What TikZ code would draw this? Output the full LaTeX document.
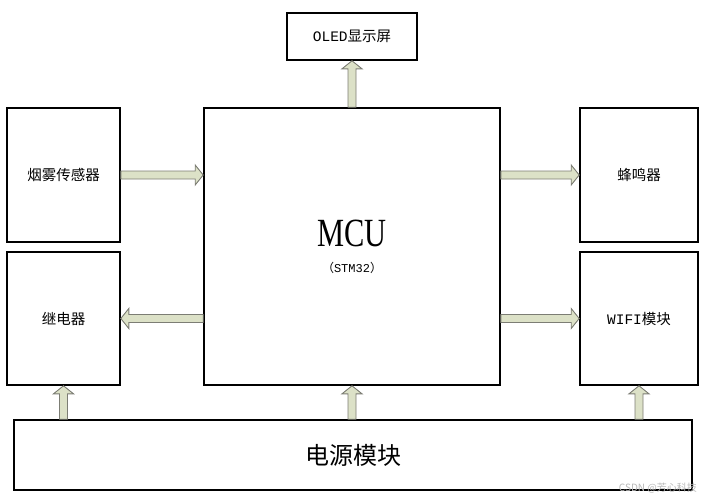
\documentclass[tikz,border=0pt]{standalone}
\usepackage{fontspec}
\setmainfont{Liberation Serif}
\setmonofont{Liberation Mono}
\newfontfamily\cjk{Noto Sans CJK SC}
\usetikzlibrary{calc}
\definecolor{arrfill}{HTML}{DCE1C7}
\definecolor{arrline}{HTML}{7C7D74}
\definecolor{wmgray}{HTML}{B8B8B8}
\tikzset{
  box/.style={draw=black, line width=1.6pt, fill=white, inner sep=0pt, align=center, font=\cjk\fontsize{14.5}{16}\selectfont},
  blkarr/.style={fill=arrfill, draw=arrline, line width=0.9pt, line join=miter},
  wm/.style={font=\cjk\fontsize{10}{12}\selectfont, color=wmgray, inner sep=0pt},
}
% block arrow from #1 to #2 (tip at #2)
\newcommand{\blkarrow}[2]{%
  \coordinate (ah) at ($(#2)!8pt!(#1)$);
  \filldraw[blkarr] ($(#1)!4pt!90:(#2)$) -- ($(ah)!4pt!90:(#2)$) -- ($(ah)!10pt!90:(#2)$)
    -- (#2) -- ($(ah)!10pt!-90:(#2)$) -- ($(ah)!4pt!-90:(#2)$) -- ($(#1)!4pt!-90:(#2)$) -- cycle;
}

\begin{document}
\begin{tikzpicture}[x=1pt, y=-1pt]
  \useasboundingbox (0,0) rectangle (707,501);
  % blocks
  \node[box, minimum width=130pt, minimum height=47pt] (oled) at (352,36.5) {{\ttfamily OLED}显示屏};
  \node[box, minimum width=296pt, minimum height=277pt] (mcu) at (352,246.5)
    {\scalebox{0.76}[1]{\fontsize{40}{42}\selectfont\rmfamily MCU}\\[10pt]
     \fontsize{12}{14}\selectfont （{\ttfamily STM32}）};
  \node[box, minimum width=113pt, minimum height=134pt] (smoke) at (63.5,175) {烟雾传感器};
  \node[box, minimum width=113pt, minimum height=133pt] (relay) at (63.5,318.5) {继电器};
  \node[box, minimum width=118pt, minimum height=134pt] (buzzer) at (639,175) {蜂鸣器};
  \node[box, minimum width=118pt, minimum height=133pt] (wifi) at (639,318.5) {{\ttfamily WIFI}模块};
  \node[box, minimum width=678pt, minimum height=70pt, font=\cjk\fontsize{24}{26}\selectfont] (power) at (353,455) {电源模块};

  % arrow ends
  \coordinate (smokeIn) at (smoke.east -| mcu.west);
  \coordinate (relayOut) at (relay.east -| mcu.west);
  \coordinate (buzzOut) at (buzzer.west -| mcu.east);
  \coordinate (wifiOut) at (wifi.west -| mcu.east);
  \coordinate (pwRelay) at (power.north -| relay.south);
  \coordinate (pwMcu) at (power.north -| mcu.south);
  \coordinate (pwWifi) at (power.north -| wifi.south);

  % connections
  \blkarrow{smoke.east}{smokeIn}
  \blkarrow{relayOut}{relay.east}
  \blkarrow{buzzOut}{buzzer.west}
  \blkarrow{wifiOut}{wifi.west}
  \blkarrow{mcu.north}{oled.south}
  \blkarrow{pwRelay}{relay.south}
  \blkarrow{pwMcu}{mcu.south}
  \blkarrow{pwWifi}{wifi.south}

  \node[wm, anchor=east] (mark) at (697,488) {CSDN @芳心科技};
\end{tikzpicture}
\end{document}
